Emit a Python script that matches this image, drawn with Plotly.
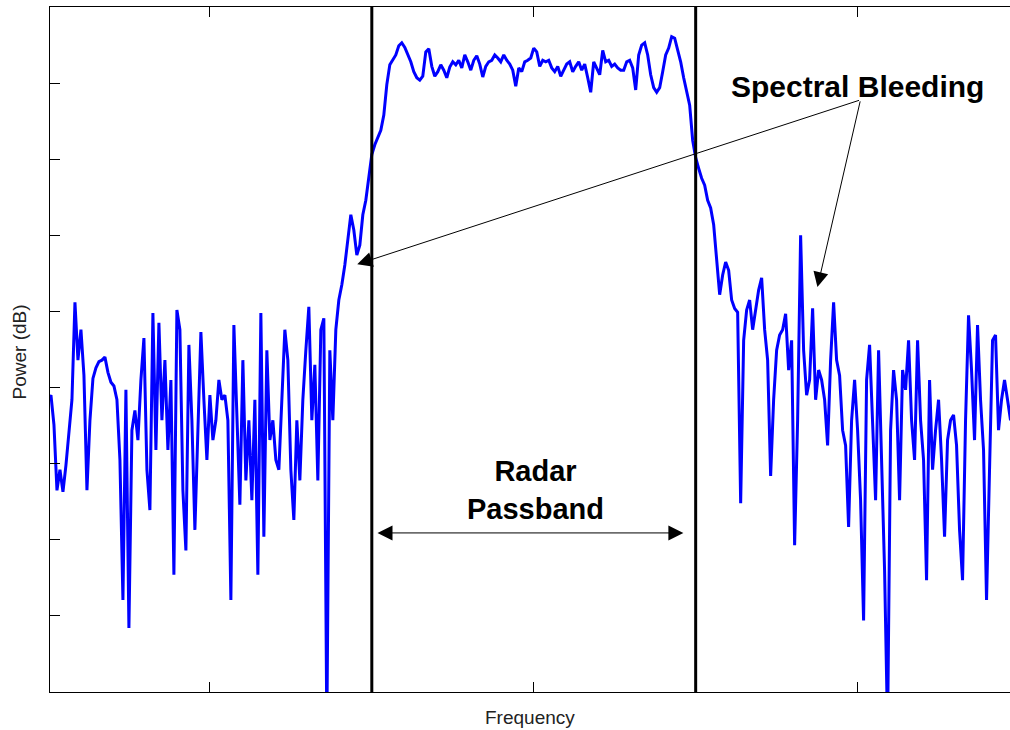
import numpy as np
import plotly.graph_objects as go

# Power spectrum (dB), evenly spaced frequency bins
power_low = [
    -51.6, -51.0, -54.9, -63.5, -60.8, -63.7, -60.2, -55.6, -51.6, -38.8,
    -46.4, -42.4, -48.4, -63.5, -54.3, -48.8, -47.4, -46.6, -46.4, -46.0,
    -48.0, -49.3, -49.8, -51.6, -59.5, -77.9, -50.3, -81.6, -55.6, -53.0,
    -56.9, -49.0, -43.5, -60.8, -66.1, -40.2, -58.2, -41.5, -54.3, -46.4,
    -58.2, -49.0, -74.6, -39.8,
    -42.4, -63.5, -71.4, -44.4, -54.3, -68.7, -55.6, -42.7, -51.6, -59.5,
    -51.0, -56.9, -54.3, -49.0, -51.6, -51.0, -54.3, -77.9, -41.8, -54.3,
    -65.4, -46.4, -62.2, -54.3, -64.8, -51.6, -74.6, -40.2, -69.6, -45.1,
    -56.9, -54.3, -59.5, -60.8, -51.6, -42.4, -46.4, -60.8, -67.4, -54.3,
    -62.2, -51.6, -45.1, -39.4, -54.3, -47.0, -62.2, -42.4, -40.9, -95.0,
    -45.1, -54.3, -42.4, -38.5, -36.5, -33.9, -30.6, -27.3, -29.3, -32.6,
    -31.3, -27.3, -25.4, -22.1,
]
power_pass = [
    -19.4, -18.1, -17.2, -16.2, -14.2, -10.2, -7.6, -7.0, -6.3, -5.1,
    -4.7, -5.3, -6.3, -7.2, -8.5, -9.3, -9.6, -9.1, -5.9, -5.5,
    -7.8, -9.1, -8.5, -7.6, -8.3, -9.3, -7.9, -7.2, -7.6, -7.0,
    -8.0, -6.3, -7.2, -8.3, -7.0, -6.4, -7.5, -9.2, -7.8, -7.2,
    -7.0, -6.3, -6.7, -7.2, -6.3, -7.0, -7.5, -8.3, -10.4, -8.0,
    -8.5, -7.2, -7.0, -6.7, -5.4, -5.9, -7.8, -7.0, -7.2, -7.0,
    -8.0, -8.5, -7.8, -9.1, -8.3, -7.5, -7.2, -8.5, -7.8, -7.2,
    -8.3, -7.5, -9.3, -11.2, -7.2, -8.0, -8.9, -5.7, -7.2, -7.0,
    -7.8, -7.5, -8.0, -8.3, -8.3, -7.2, -7.0, -8.0, -10.9, -6.3,
    -5.0, -4.7, -6.3, -8.9, -10.6, -11.2, -10.6, -8.5, -6.3, -5.4,
    -3.9, -4.1, -5.7, -7.2, -9.3, -11.2, -12.9,
]
power_high = [
    -17.5, -19.8, -21.2, -22.5, -23.4, -25.4, -26.4, -28.6, -33.2, -37.8,
    -35.2, -33.5, -34.6, -38.5, -39.6, -40.1, -65.2, -43.8, -39.8, -38.5,
    -42.4, -39.8, -37.2, -35.6, -42.4, -46.4, -61.6, -51.6, -45.1, -43.1,
    -42.4, -40.3, -47.7, -43.8, -70.7, -54.3, -30.0, -45.1, -51.0, -49.0,
    -39.6, -51.6, -47.7, -49.0, -51.6, -57.6, -46.4, -38.8, -46.4, -48.4,
    -55.6, -57.6, -68.3, -54.3, -49.0, -55.6,
    -64.8, -80.6, -49.0, -44.4, -54.3, -64.8, -45.1, -59.5, -74.0, -95.0,
    -55.6, -47.7, -51.6, -64.8, -47.7, -50.3, -43.8, -54.3, -59.5, -43.8,
    -54.3, -59.5, -75.3, -49.0, -60.8, -55.6, -51.6, -59.5, -69.6, -56.9,
    -54.3, -53.6, -57.6, -68.7, -75.3, -54.3, -40.5, -47.7, -56.9, -41.8,
    -51.6, -58.2, -77.9, -60.8, -43.8, -43.1, -55.6, -51.6, -49.0, -51.6,
    -54.3, -49.0, -51.6, -50.3,
]
power_db = power_low + power_pass + power_high
freq = np.linspace(-1.5, 1.5, len(power_db))

passband_edges = [-0.5, 0.5]
x_ticks = [-1, 0, 1]
y_ticks = [-80, -70, -60, -50, -40, -30, -20, -10]

FONT = "Liberation Sans, Arial, sans-serif"

fig = go.Figure()
fig.add_trace(go.Scatter(x=freq, y=power_db, mode="lines",
                         line=dict(color="#0000FF", width=3), hoverinfo="skip"))

for xe in passband_edges:
    fig.add_shape(type="line", x0=xe, x1=xe, y0=0, y1=1, yref="paper", xref="x",
                  line=dict(color="black", width=3))

# annotations (arrows)
arrow_common = dict(showarrow=True, arrowhead=2, arrowsize=3, arrowwidth=1,
                    arrowcolor="black", axref="x", ayref="y", text="")
fig.add_annotation(x=-0.545, y=-33.8, ax=1.009, ay=-12.2, **arrow_common)
fig.add_annotation(x=0.876, y=-36.8, ax=1.009, ay=-12.2, **arrow_common)
fig.add_annotation(x=0.462, y=-69.1, ax=-0.487, ay=-69.1, arrowside="end+start",
                   **arrow_common)

fig.add_annotation(x=1.001, y=-10.4, text="<b>Spectral Bleeding</b>", showarrow=False,
                   font=dict(family=FONT, size=30, color="black"),
                   xanchor="center", yanchor="middle")
fig.add_annotation(x=0.005, y=-63.5, text="<b>Radar</b><br><b>Passband</b>", showarrow=False,
                   font=dict(family=FONT, size=29, color="black"),
                   xanchor="center", yanchor="middle")

# axis titles
fig.add_annotation(x=0, xref="paper", y=0.5, yref="paper", xshift=-31, yshift=-3,
                   text="Power (dB)", textangle=-90, showarrow=False,
                   font=dict(family=FONT, size=19, color="#222"),
                   xanchor="center", yanchor="middle")
fig.add_annotation(x=0.5, xref="paper", y=0, yref="paper", yshift=-25,
                   text="Frequency", showarrow=False,
                   font=dict(family=FONT, size=19, color="#222"),
                   xanchor="center", yanchor="middle")

fig.update_xaxes(range=[-1.4937, 1.4706], tickvals=x_ticks, showticklabels=False,
                 ticks="inside", ticklen=10, tickcolor="black", tickwidth=1,
                 showline=True, linecolor="black", linewidth=1, mirror="ticks",
                 showgrid=False, zeroline=False)
fig.update_yaxes(range=[-90, 0], tickvals=y_ticks, showticklabels=False,
                 ticks="inside", ticklen=10, tickcolor="black", tickwidth=1,
                 showline=True, linecolor="black", linewidth=1, mirror=False,
                 showgrid=False, zeroline=False)

fig.update_layout(width=1010, height=730, margin=dict(l=50, r=0, t=7, b=38),
                  plot_bgcolor="white", paper_bgcolor="white", showlegend=False,
                  font=dict(family=FONT))

fig.write_html("out.html", config={"displayModeBar": False},
               post_script="document.body.style.margin='0';document.body.style.overflow='hidden';")
